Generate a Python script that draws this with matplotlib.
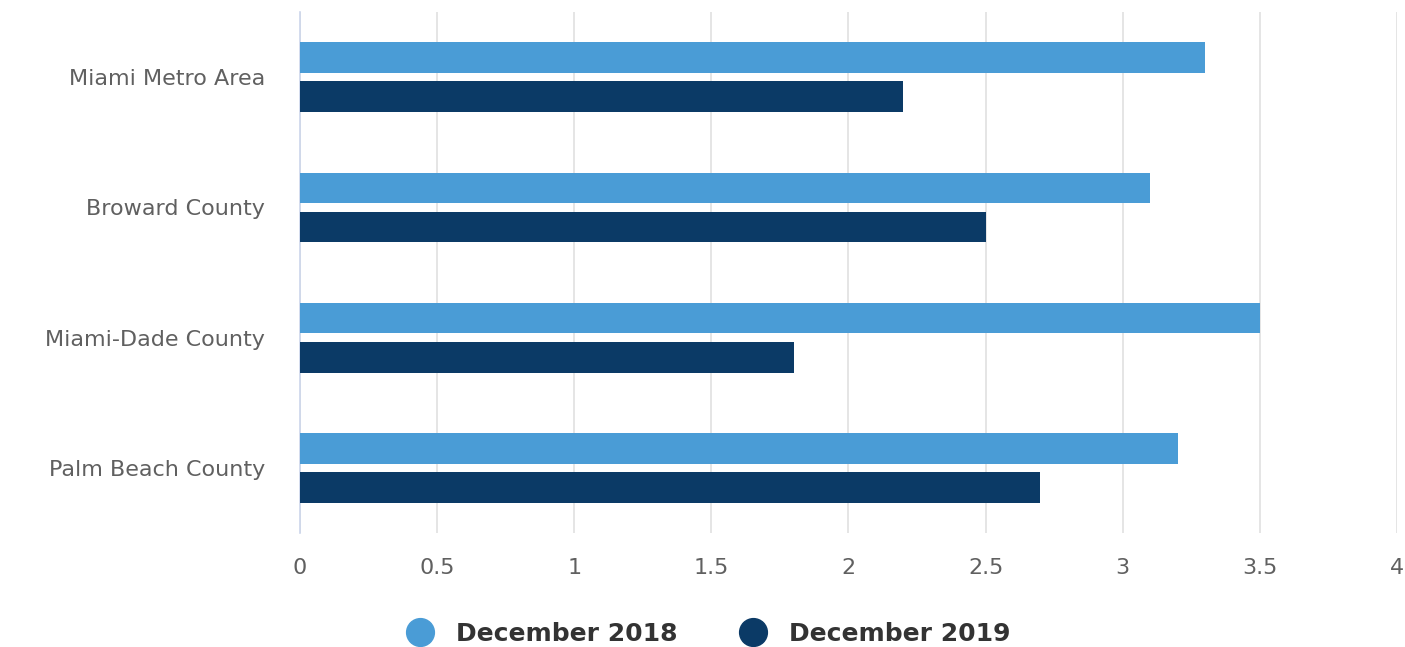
import numpy as np
import matplotlib
matplotlib.use('Agg')
import matplotlib.pyplot as plt
from matplotlib.lines import Line2D

# Chart data
categories = ['Miami Metro Area', 'Broward County', 'Miami-Dade County', 'Palm Beach County']
dec_2018 = [3.3, 3.1, 3.5, 3.2]
dec_2019 = [2.2, 2.5, 1.8, 2.7]
series_names = ['December 2018', 'December 2019']
colors = ['#4a9cd6', '#0b3a66']
x_ticks = [0, 0.5, 1, 1.5, 2, 2.5, 3, 3.5, 4]
x_tick_labels = ['0', '0.5', '1', '1.5', '2', '2.5', '3', '3.5', '4']

plt.rcParams['font.family'] = ['DejaVu Sans']

fig = plt.figure(figsize=(14.05, 6.47), dpi=100)
ax = fig.add_axes([0.2135, 0.176, 0.7808, 0.8055])

y = np.arange(len(categories))
bar_h = 0.235
ax.barh(y - 0.15, dec_2018, height=bar_h, color=colors[0], zorder=3)
ax.barh(y + 0.15, dec_2019, height=bar_h, color=colors[1], zorder=3)

ax.set_xlim(0, 4)
ax.set_ylim(len(categories) - 0.5, -0.5)
ax.set_yticks(y)
ax.set_yticklabels(categories, fontsize=16, color='#606060')
ax.set_xticks(x_ticks)
ax.set_xticklabels(x_tick_labels, fontsize=16, color='#606060')
ax.tick_params(axis='y', length=0, pad=25)
ax.tick_params(axis='x', length=0, pad=18)

ax.grid(axis='x', color='#e0e0e0', linewidth=1.2, zorder=0)
for s in ['top', 'right', 'bottom']:
    ax.spines[s].set_visible(False)
ax.spines['left'].set_color('#ccd6eb')
ax.spines['left'].set_linewidth(1.2)

handles = [Line2D([0], [0], marker='o', linestyle='', markersize=20,
                  markerfacecolor=c, markeredgecolor=c) for c in colors]
leg = fig.legend(handles, series_names, loc='center', bbox_to_anchor=(0.5, 0.02),
                 ncol=2, frameon=False, handletextpad=0.45, columnspacing=2.0,
                 prop={'size': 18, 'weight': 'bold'})
for t in leg.get_texts():
    t.set_color('#333333')

fig.savefig('out.png', dpi=100)
